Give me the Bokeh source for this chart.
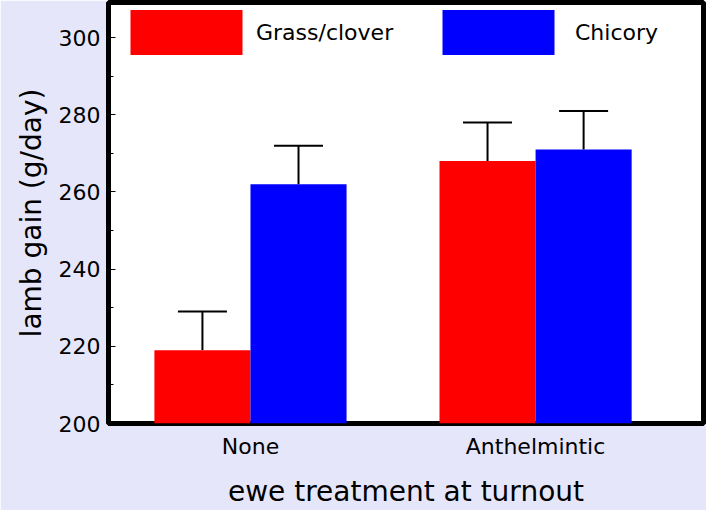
from bokeh.plotting import figure
from bokeh.models import (ColumnDataSource, Range1d, FixedTicker, SingleIntervalTicker,
                          Whisker, TeeHead, Legend, LegendItem)
from bokeh.embed import file_html
from bokeh.resources import INLINE

# ---- data ----
groups = ["None", "Anthelmintic"]
series_names = ["Grass/clover", "Chicory"]
grass_clover = [219, 268]
chicory = [262, 271]
grass_clover_upper = [229, 278]
chicory_upper = [272, 281]
y_tick_interval = 20

FONT = "DejaVu Sans"
BG = "#E6E6FA"

pos = [i + 1 for i in range(len(groups))]
bar_w = 0.337
off = bar_w / 2

src_g = ColumnDataSource(dict(x=[q - off for q in pos], top=grass_clover, upper=grass_clover_upper))
src_c = ColumnDataSource(dict(x=[q + off for q in pos], top=chicory, upper=chicory_upper))

p = figure(width=706, height=510, output_backend="svg", toolbar_location=None,
           x_range=Range1d(0.502, 2.589), y_range=Range1d(200, 309.1),
           min_border_left=108, min_border_right=3, min_border_top=2, min_border_bottom=87,
           background_fill_color="white", border_fill_color=BG)
p.grid.visible = False
p.outline_line_color = "black"
p.outline_line_width = 5

r_g = p.vbar(x="x", top="top", bottom=200, width=bar_w, source=src_g,
             fill_color="#FF0000", line_color=None)
r_c = p.vbar(x="x", top="top", bottom=200, width=bar_w, source=src_c,
             fill_color="#0000FF", line_color=None)

for src in (src_g, src_c):
    w = Whisker(source=src, base="x", upper="upper", lower="top", dimension="height",
                line_color="black", line_width=2,
                upper_head=TeeHead(size=49, line_width=2, line_color="black"),
                lower_head=None)
    p.add_layout(w)

# y axis
yax = p.yaxis[0]
yax.ticker = SingleIntervalTicker(interval=y_tick_interval, num_minor_ticks=2)
yax.axis_line_color = None
yax.major_tick_in = 7
yax.major_tick_out = 0
yax.minor_tick_in = 5
yax.minor_tick_out = 0
yax.major_tick_line_color = "black"
yax.minor_tick_line_color = "black"
yax.major_label_text_font = FONT
yax.major_label_text_font_size = "22px"
yax.major_label_text_color = "black"
yax.major_label_text_baseline = "hanging"
yax.major_label_standoff = 8
yax.axis_label = "lamb gain (g/day)"
yax.axis_label_text_font = FONT
yax.axis_label_text_font_size = "28px"
yax.axis_label_text_font_style = "normal"
yax.axis_label_text_color = "black"
yax.axis_label_standoff = 8

# x axis
xax = p.xaxis[0]
xax.ticker = FixedTicker(ticks=pos)
xax.major_label_overrides = {q: g for q, g in zip(pos, groups)}
xax.axis_line_color = None
xax.major_tick_in = 0
xax.major_tick_out = 0
xax.minor_tick_in = 0
xax.minor_tick_out = 0
xax.major_label_text_font = FONT
xax.major_label_text_font_size = "22px"
xax.major_label_text_color = "black"
xax.major_label_standoff = 10
xax.axis_label = "ewe treatment at turnout"
xax.axis_label_text_font = FONT
xax.axis_label_text_font_size = "28px"
xax.axis_label_text_font_style = "normal"
xax.axis_label_text_color = "black"
xax.axis_label_standoff = 13

def make_legend(label, renderer, loc, standoff):
    return Legend(items=[LegendItem(label=label, renderers=[renderer])],
                  location=loc, orientation="horizontal",
                  glyph_width=140, glyph_height=56, label_standoff=standoff,
                  padding=0, margin=0, border_line_color=None,
                  background_fill_alpha=0,
                  label_text_font=FONT, label_text_font_size="22px",
                  label_text_color="black")

p.add_layout(make_legend(series_names[0], r_g, (8, 363), -7))
p.add_layout(make_legend(series_names[1], r_c, (320, 363), 7))

open("out.html", "w").write(file_html(p, INLINE))
